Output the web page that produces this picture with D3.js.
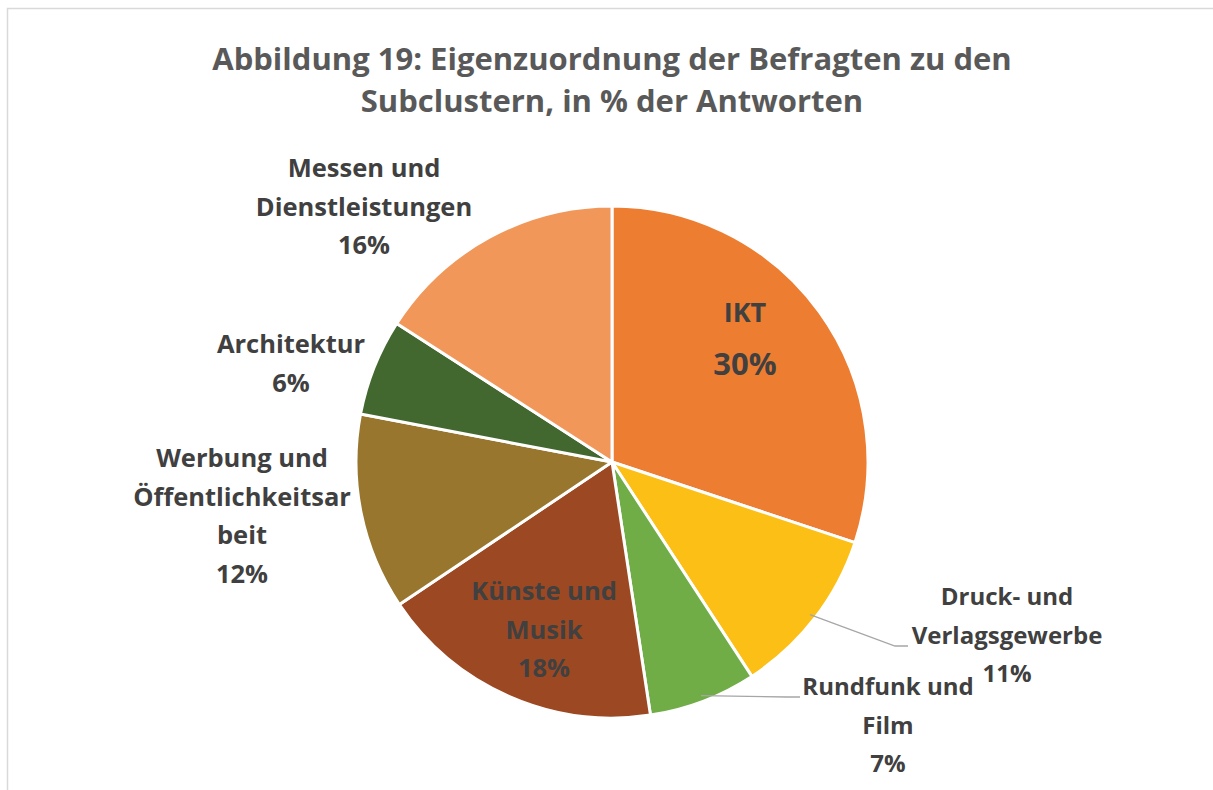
<!DOCTYPE html>
<html>
<head>
<meta charset="utf-8">
<script src="https://cdn.jsdelivr.net/npm/d3@7"></script>
<style>
  html, body { margin: 0; padding: 0; background: #fff; }
  svg { display: block; }
  text { font-family: "Open Sans", "Noto Sans", sans-serif; font-weight: 700; }
</style>
</head>
<body>
<svg id="chart" width="1213" height="790"></svg>
<script>
// ---- data ----
const categories = [
  "IKT",
  "Druck- und Verlagsgewerbe",
  "Rundfunk und Film",
  "Künste und Musik",
  "Werbung und Öffentlichkeitsarbeit",
  "Architektur",
  "Messen und Dienstleistungen"
];
const values = [30.1, 10.7, 6.8, 18.0, 12.4, 6.1, 15.9];
const labelLines = [
  ["IKT"],
  ["Druck- und", "Verlagsgewerbe"],
  ["Rundfunk und", "Film"],
  ["Künste und", "Musik"],
  ["Werbung und", "Öffentlichkeitsar", "beit"],
  ["Architektur"],
  ["Messen und", "Dienstleistungen"]
];
const colors = ["#ED7D31", "#FCBF15", "#70AD47", "#9C4823", "#98762E", "#43682F", "#F1975A"];
const title = ["Abbildung 19: Eigenzuordnung der Befragten zu den", "Subclustern, in % der Antworten"];

// ---- layout ----
const W = 1213, H = 790;
const cx = 612, cy = 462, R = 256;
// label anchor relative to pie centre (first baseline), font size, leader end points
const labelLayout = [
  {x: 133, y: -140, fs: 27, leader: null},
  {x: 395, y: 143, fs: 24, leader: [[283, 184], [296, 184]]},
  {x: 276, y: 233, fs: 24, leader: [[175, 235], [188, 235]]},
  {x: -68, y: 138, fs: 25.5, leader: null},
  {x: -370, y: 5, fs: 25.5, leader: null},
  {x: -321, y: -109, fs: 25.5, leader: null},
  {x: -248, y: -285, fs: 25.5, leader: null}
];
const lineH = 38.5;

const svg = d3.select("#chart");

// outer chart border
svg.append("rect")
  .attr("x", 7.5).attr("y", 8.5)
  .attr("width", W + 20).attr("height", H + 20)
  .attr("fill", "#fff").attr("stroke", "#d9d9d9").attr("stroke-width", 1.5);

// title
svg.append("text")
  .attr("text-anchor", "middle")
  .attr("fill", "#595959")
  .attr("font-size", 31)
  .selectAll("tspan").data(title).join("tspan")
  .attr("x", 612)
  .attr("y", (d, i) => 70 + i * 42)
  .text(d => d);

const pie = d3.pie().sort(null).value(d => d)(values);
const arc = d3.arc().innerRadius(0).outerRadius(R);

const g = svg.append("g").attr("transform", `translate(${cx},${cy})`);

g.selectAll("path.slice").data(pie).join("path")
  .attr("class", "slice")
  .attr("d", arc)
  .attr("fill", (d, i) => colors[i])
  .attr("stroke", "#fff")
  .attr("stroke-width", 3)
  .attr("stroke-linejoin", "round");

// leader lines
pie.forEach((d, i) => {
  const L = labelLayout[i];
  if (!L.leader) return;
  const a = (d.startAngle + d.endAngle) / 2;
  const r0 = R - 6;
  const start = [Math.sin(a) * r0, -Math.cos(a) * r0];
  g.append("polyline")
    .attr("points", [start, ...L.leader].map(p => p.join(",")).join(" "))
    .attr("fill", "none")
    .attr("stroke", "#a6a6a6")
    .attr("stroke-width", 1.3);
});

// labels
pie.forEach((d, i) => {
  const L = labelLayout[i];
  const pct = Math.round(values[i]) + "%";
  const t = g.append("text")
    .attr("text-anchor", "middle")
    .attr("fill", "#404040")
    .attr("font-size", L.fs);
  if (i === 0) {
    t.append("tspan").attr("x", L.x).attr("y", L.y).text(labelLines[i][0]);
    t.append("tspan").attr("x", L.x).attr("y", L.y + 53).attr("font-size", 31).text(pct);
  } else {
    const lines = labelLines[i].concat([pct]);
    t.selectAll("tspan").data(lines).join("tspan")
      .attr("x", L.x)
      .attr("y", (s, k) => L.y + k * lineH)
      .text(s => s);
  }
});
</script>
</body>
</html>
